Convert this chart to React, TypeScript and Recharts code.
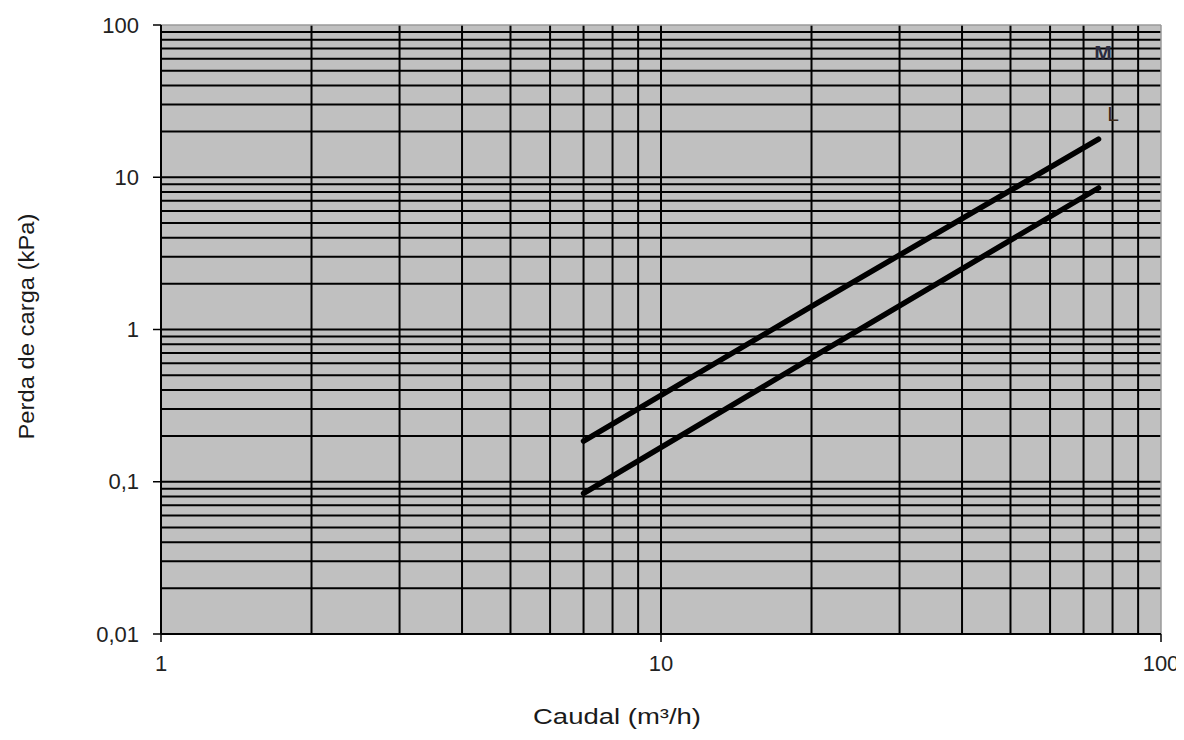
import React from 'react';
import {
  LineChart,
  Line,
  XAxis,
  YAxis,
  CartesianGrid,
  ReferenceLine,
  ReferenceDot,
  Label,
} from 'recharts';

const fontFamily = '"Liberation Sans", Arial, Helvetica, sans-serif';

// Data (flow in m³/h, pressure loss in kPa)
const flowM = [7, 20, 75];
const lossM = [0.185, 1.42, 17.8];
const flowL = [7, 20, 75];
const lossL = [0.084, 0.65, 8.5];

const seriesM = flowM.map((f, i) => ({ flow: f, loss: lossM[i] }));
const seriesL = flowL.map((f, i) => ({ flow: f, loss: lossL[i] }));

// Curve labels (placed in data space)
const curveLabelNames = ['M', 'L'];
const curveLabelFlows = [76.6, 80.2];
const curveLabelLosses = [65.5, 26.4];

// Axis ticks
const xTicks = [1, 10, 100];
const xTickLabels = ['1', '10', '100'];
const yTicks = [0.01, 0.1, 1, 10, 100];
const yTickLabels = ['0,01', '0,1', '1', '10', '100'];

// Log grid lines
const xGrid = [2, 3, 4, 5, 6, 7, 8, 9, 10, 20, 30, 40, 50, 60, 70, 80, 90];
const yGrid = [
  0.02, 0.03, 0.04, 0.05, 0.06, 0.07, 0.08, 0.09,
  0.1, 0.2, 0.3, 0.4, 0.5, 0.6, 0.7, 0.8, 0.9,
  1, 2, 3, 4, 5, 6, 7, 8, 9,
  10, 20, 30, 40, 50, 60, 70, 80, 90,
];

const xTitle = 'Caudal (m³/h)';
const yTitle = 'Perda de carga (kPa)';

const TICK_FONT = 22;

const XTick = (props: any) => {
  const { x, y, payload } = props;
  const label = xTickLabels[xTicks.indexOf(payload.value)] ?? '';
  return (
    <text
      x={x}
      y={y + 21}
      textAnchor="middle"
      dominantBaseline="central"
      fontFamily={fontFamily}
      fontSize={TICK_FONT}
      fill="#222"
    >
      {label}
    </text>
  );
};

const YTick = (props: any) => {
  const { x, y, payload } = props;
  const label = yTickLabels[yTicks.indexOf(payload.value)] ?? '';
  return (
    <text
      x={x}
      y={y}
      textAnchor="end"
      dominantBaseline="central"
      fontFamily={fontFamily}
      fontSize={TICK_FONT}
      fill="#222"
    >
      {label}
    </text>
  );
};

const XTitle = (props: any) => {
  const vb = props.viewBox || {};
  const cx = vb.x + vb.width * 0.456;
  const cy = vb.y + vb.height - 8;
  return (
    <text
      x={cx}
      y={cy}
      textAnchor="middle"
      fontFamily={fontFamily}
      fontSize={22}
      fill="#1a1a1a"
      textLength={168}
      lengthAdjust="spacingAndGlyphs"
    >
      {xTitle}
    </text>
  );
};

const YTitle = (props: any) => {
  const vb = props.viewBox || {};
  const cx = vb.x + 18;
  const cy = vb.y + vb.height / 2 - 3;
  return (
    <text
      x={cx}
      y={cy}
      textAnchor="middle"
      dominantBaseline="central"
      fontFamily={fontFamily}
      fontSize={22}
      fill="#1a1a1a"
      transform={`rotate(-90, ${cx}, ${cy})`}
      textLength={226}
      lengthAdjust="spacingAndGlyphs"
    >
      {yTitle}
    </text>
  );
};

const CurveLabel = (props: any) => {
  const vb = props.viewBox || {};
  const idx = props.idx as number;
  return (
    <text
      x={vb.x + (vb.width || 0) / 2}
      y={vb.y + (vb.height || 0) / 2}
      textAnchor="middle"
      dominantBaseline="central"
      fontFamily={fontFamily}
      fontSize={21}
      fontWeight={idx === 0 ? 'bold' : 'normal'}
      fill={idx === 0 ? '#2b2b3f' : '#3b2a1a'}
    >
      {curveLabelNames[idx]}
    </text>
  );
};

export default function App() {
  return (
    <div style={{ width: 1176, height: 724, fontFamily }}>
      <LineChart
        width={1176}
        height={724}
        margin={{ top: 17, right: 23, bottom: 0, left: 0 }}
      >
        <CartesianGrid
          horizontal={false}
          vertical={false}
          fill="#c0c0c0"
          fillOpacity={1}
        />
        <XAxis
          type="number"
          dataKey="flow"
          scale="log"
          domain={[1, 100]}
          ticks={xTicks}
          interval={0}
          allowDataOverflow
          height={98}
          tickSize={8}
          tickMargin={0}
          axisLine={{ stroke: '#000', strokeWidth: 2 }}
          tickLine={{ stroke: '#000', strokeWidth: 1.5 }}
          tick={<XTick />}
        >
          <Label content={<XTitle />} />
        </XAxis>
        <YAxis
          type="number"
          dataKey="loss"
          scale="log"
          domain={[0.01, 100]}
          ticks={yTicks}
          interval={0}
          allowDataOverflow
          width={153}
          tickSize={8}
          tickMargin={14}
          axisLine={{ stroke: '#000', strokeWidth: 2 }}
          tickLine={{ stroke: '#000', strokeWidth: 1.5 }}
          tick={<YTick />}
        >
          <Label content={<YTitle />} />
        </YAxis>

        {xGrid.map((v) => (
          <ReferenceLine key={`gx${v}`} x={v} stroke="#000" strokeWidth={2} />
        ))}
        {yGrid.map((v) => (
          <ReferenceLine key={`gy${v}`} y={v} stroke="#000" strokeWidth={2} />
        ))}
        <ReferenceLine y={100} stroke="#9a9a9a" strokeWidth={1.5} />
        <ReferenceLine x={100} stroke="#9a9a9a" strokeWidth={1.5} />

        <Line
          data={seriesM}
          dataKey="loss"
          name="M"
          type="linear"
          stroke="#000"
          strokeWidth={5.5}
          strokeLinecap="round"
          dot={false}
          activeDot={false}
          isAnimationActive={false}
        />
        <Line
          data={seriesL}
          dataKey="loss"
          name="L"
          type="linear"
          stroke="#000"
          strokeWidth={5.5}
          strokeLinecap="round"
          dot={false}
          activeDot={false}
          isAnimationActive={false}
        />

        {curveLabelNames.map((name, i) => (
          <ReferenceDot
            key={name}
            x={curveLabelFlows[i]}
            y={curveLabelLosses[i]}
            r={0}
            fill="none"
            stroke="none"
            label={<CurveLabel idx={i} />}
          />
        ))}
      </LineChart>
    </div>
  );
}
